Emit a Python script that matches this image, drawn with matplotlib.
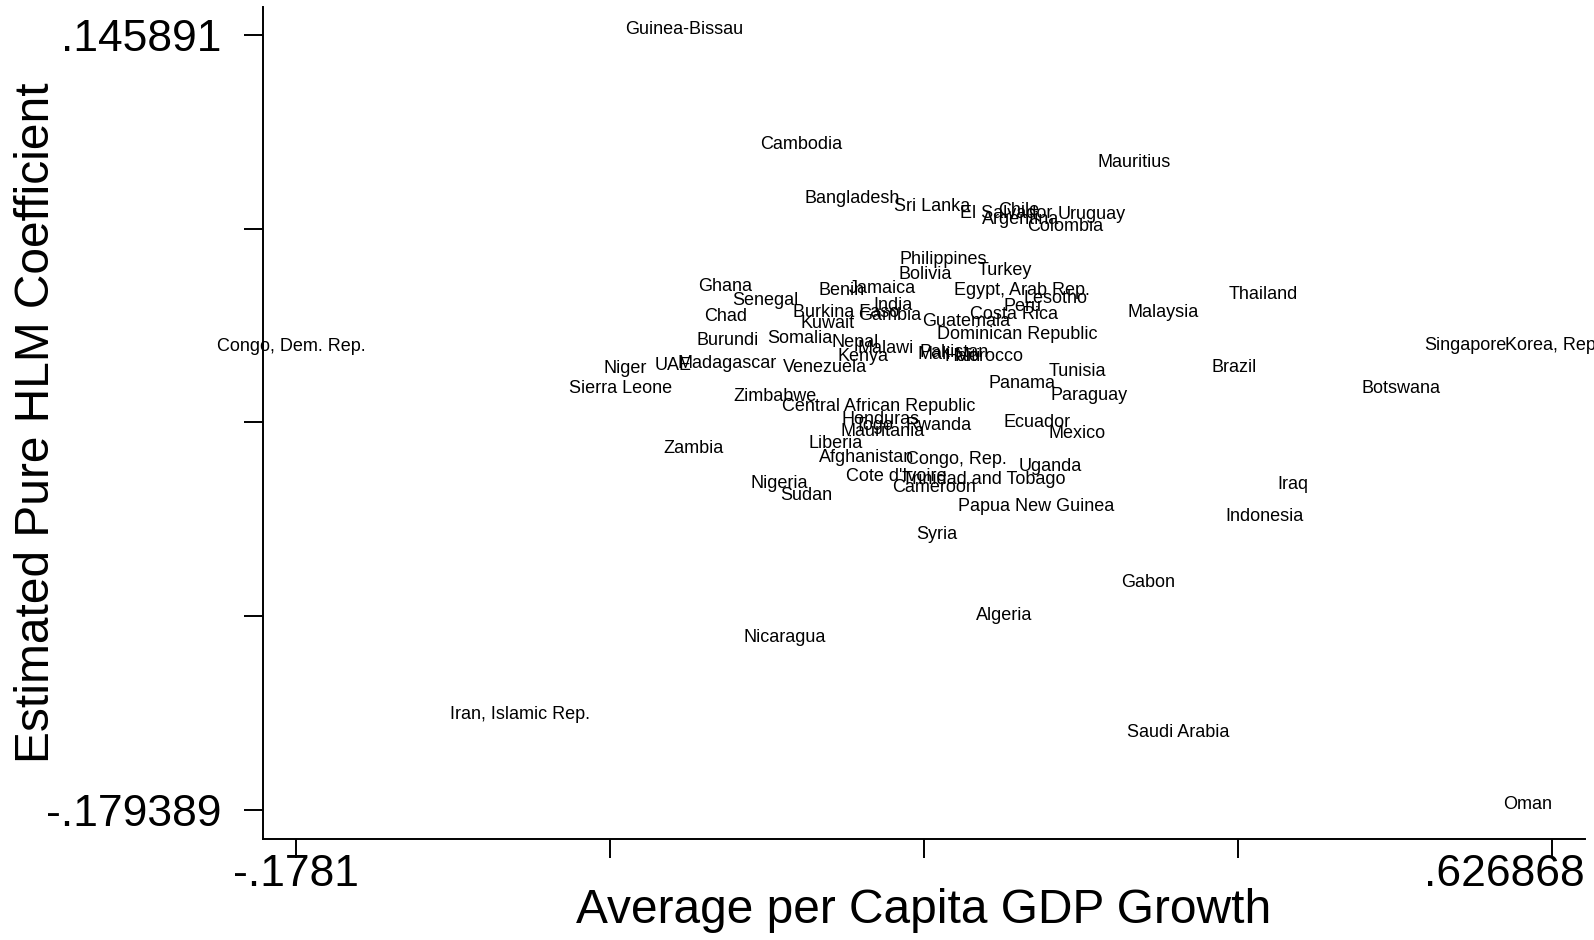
import matplotlib
matplotlib.use("Agg")
import matplotlib.pyplot as plt
from matplotlib.transforms import ScaledTranslation

# country labels, average per capita GDP growth and estimated pure HLM coefficient
countries = [
    "Guinea-Bissau", "Cambodia", "Mauritius", "Bangladesh", "Sri Lanka",
    "El Salvador", "Chile", "Argentina", "Uruguay", "Colombia",
    "Philippines", "Bolivia", "Turkey", "Ghana", "Benin",
    "Jamaica", "Egypt, Arab Rep.", "Lesotho", "Thailand", "Senegal",
    "India", "Peru", "Malaysia", "Chad", "Burkina Faso",
    "Gambia", "Kuwait", "Guatemala", "Costa Rica", "Dominican Republic",
    "Burundi", "Somalia", "Nepal", "Malawi", "Kenya",
    "Pakistan", "Mali", "Haiti", "Morocco", "Congo, Dem. Rep.",
    "Niger", "UAE", "Madagascar", "Venezuela", "Tunisia",
    "Panama", "Paraguay", "Brazil", "Singapore", "Korea, Rep.",
    "Botswana", "Sierra Leone", "Zimbabwe", "Central African Republic", "Honduras",
    "Togo", "Rwanda", "Mauritania", "Ecuador", "Mexico",
    "Liberia", "Zambia", "Afghanistan", "Congo, Rep.", "Uganda",
    "Cote d'Ivoire", "Trinidad and Tobago", "Cameroon", "Nigeria", "Sudan",
    "Iraq", "Papua New Guinea", "Indonesia", "Syria", "Gabon",
    "Algeria", "Nicaragua", "Iran, Islamic Rep.", "Saudi Arabia", "Oman",
]
growth = [
    0.0707, 0.1456, 0.3592, 0.1781, 0.2296,
    0.2771, 0.2850, 0.2863, 0.3318, 0.3149,
    0.2368, 0.2250, 0.2758, 0.0967, 0.1716,
    0.1977, 0.2869, 0.3084, 0.4413, 0.1228,
    0.2042, 0.2876, 0.3774, 0.0974, 0.1742,
    0.2022, 0.1625, 0.2511, 0.2817, 0.2843,
    0.0987, 0.1449, 0.1801, 0.1996, 0.1853,
    0.2439, 0.2309, 0.2491, 0.2661, -0.1807,
    0.0329, 0.0635, 0.0980, 0.1606, 0.3227,
    0.2869, 0.3299, 0.4230, 0.5709, 0.626868,
    0.5298, 0.0297, 0.1287, 0.1951, 0.1964,
    0.1925, 0.2335, 0.1977, 0.2967, 0.3221,
    0.1677, 0.0766, 0.1873, 0.2452, 0.3051,
    0.2068, 0.2628, 0.2309, 0.1313, 0.1488,
    0.4608, 0.2960, 0.4426, 0.2322, 0.3677,
    0.2758, 0.1352, -0.0342, 0.3872, 0.6112,
]
hlm_coef = [
    0.145891, 0.0975, 0.0898, 0.0749, 0.0715,
    0.0685, 0.0698, 0.0660, 0.0681, 0.0630,
    0.0493, 0.0429, 0.0446, 0.0378, 0.0361,
    0.0370, 0.0361, 0.0327, 0.0344, 0.0319,
    0.0301, 0.0297, 0.0272, 0.0255, 0.0272,
    0.0259, 0.0225, 0.0233, 0.0263, 0.0178,
    0.0152, 0.0161, 0.0144, 0.0118, 0.0084,
    0.0101, 0.0093, 0.0084, 0.0084, 0.0127,
    0.0037, 0.0046, 0.0058, 0.0041, 0.0024,
    -0.0027, -0.0078, 0.0041, 0.0131, 0.0131,
    -0.0048, -0.0048, -0.0082, -0.0125, -0.0180,
    -0.0202, -0.0202, -0.0227, -0.0193, -0.0236,
    -0.0278, -0.0300, -0.0338, -0.0347, -0.0376,
    -0.0419, -0.0428, -0.0462, -0.0445, -0.0496,
    -0.0453, -0.0543, -0.0585, -0.0662, -0.0862,
    -0.0999, -0.1093, -0.1417, -0.1493, -0.179389,
]

x_min, x_max = -0.1781, 0.626868
y_min, y_max = -0.179389, 0.145891
x_tick_labels = ["-.1781", "", "", "", ".626868"]
y_tick_labels = ["-.179389", "", "", "", ".145891"]

plt.rcParams["font.family"] = ["Liberation Sans", "DejaVu Sans"]

fig = plt.figure(figsize=(15.94, 9.40), dpi=100)
ax = fig.add_axes([0.165, 0.1074, 0.8294, 0.8851])

for name, gx, hy in zip(countries, growth, hlm_coef):
    ax.annotate(name, (gx, hy), xytext=(0, 4), textcoords="offset points",
                ha="center", va="center", fontsize=13, color="black",
                annotation_clip=False)

ax.set_xlim(-0.19914, 0.64777)
ax.set_ylim(-0.19146, 0.15745)

x_ticks = [x_min + i * (x_max - x_min) / 4 for i in range(5)]
y_ticks = [y_min + i * (y_max - y_min) / 4 for i in range(5)]
ax.set_xticks(x_ticks)
ax.set_xticklabels(x_tick_labels)
ax.set_yticks(y_ticks)
ax.set_yticklabels(y_tick_labels)

ax.tick_params(axis="both", direction="out", length=14, width=1.4,
               labelsize=32, color="black")
ax.tick_params(axis="x", pad=-3)
ax.tick_params(axis="y", pad=16)

# keep the last x tick label inside the figure
last = ax.get_xticklabels()[-1]
last.set_horizontalalignment("right")
last.set_transform(last.get_transform() + ScaledTranslation(0.32, 0, fig.dpi_scale_trans))

for side in ["top", "right"]:
    ax.spines[side].set_visible(False)
for side in ["left", "bottom"]:
    ax.spines[side].set_linewidth(1.4)

ax.set_xlabel("Average per Capita GDP Growth", fontsize=34.5, va="center")
ax.xaxis.set_label_coords(0.5, -0.0853)
ax.set_ylabel("Estimated Pure HLM Coefficient", fontsize=34.5, ha="center", va="center")
ax.yaxis.set_label_coords(-0.1717, 0.5)

fig.savefig("out.png", dpi=100, facecolor="white")
